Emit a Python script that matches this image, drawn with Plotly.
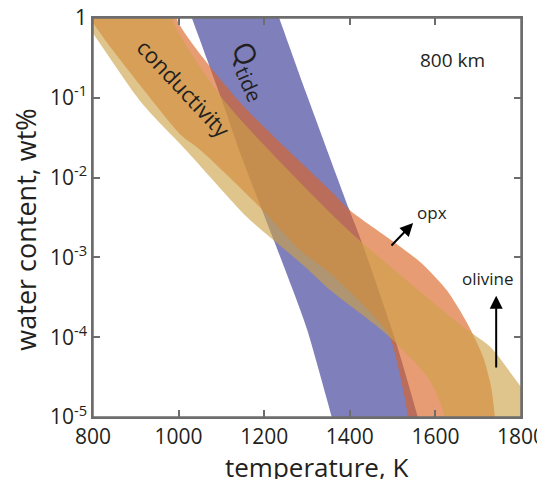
import numpy as np
import plotly.graph_objects as go

# ---- data (temperature K, log10 water content wt%) ----
# Q_tide band
qtide_left_T = [1024, 1031, 1101, 1150, 1225, 1267, 1300, 1358, 1363]
qtide_left_logw = [0.1, 0.0, -1.03, -1.78, -2.82, -3.41, -3.90, -5.0, -5.1]
qtide_right_T = [1228, 1235, 1298, 1398, 1428, 1506, 1559, 1564]
qtide_right_logw = [0.1, 0.0, -0.94, -2.39, -2.81, -4.03, -5.0, -5.1]

# opx conductivity band
opx_upper_T = [1015, 1010, 996, 1139, 1354, 1400, 1506, 1567, 1628, 1676, 1711, 1730, 1739, 1741]
opx_upper_logw = [0.2, 0.1, 0.0, -1.03, -2.16, -2.41, -2.82, -3.07, -3.42, -3.84, -4.24, -4.62, -5.0, -5.2]
opx_lower_T = [780, 800, 844, 898, 1008, 1050, 1190, 1284, 1354, 1489, 1517, 1536, 1536]
opx_lower_logw = [0.09, -0.063, -0.39, -0.76, -1.48, -1.65, -2.37, -2.91, -3.20, -3.95, -4.47, -5.0, -5.2]

# olivine conductivity band
ol_upper_T = [1000, 997, 985, 1106, 1354, 1428, 1664, 1728, 1800, 1850]
ol_upper_logw = [0.2, 0.1, 0.0, -1.03, -2.44, -2.81, -3.87, -4.12, -4.62, -4.95]
ol_lower_T = [780, 800, 914, 1017, 1157, 1230, 1298, 1354, 1487, 1587, 1622, 1622]
ol_lower_logw = [-0.04, -0.19, -1.065, -1.654, -2.48, -2.82, -3.13, -3.41, -3.97, -4.54, -5.0, -5.2]

x_ticks = [800, 1000, 1200, 1400, 1600, 1800]
y_tick_exp = [-5, -4, -3, -2, -1, 0]
y_tick_text = ["10<sup>-5</sup>", "10<sup>-4</sup>", "10<sup>-3</sup>", "10<sup>-2</sup>", "10<sup>-1</sup>", "1"]


def band(upper_T, upper_logw, lower_T, lower_logw, corner_pts):
    xs = list(upper_T) + [c[0] for c in corner_pts[0]] + list(lower_T)[::-1] + [c[0] for c in corner_pts[1]]
    ls = list(upper_logw) + [c[1] for c in corner_pts[0]] + list(lower_logw)[::-1] + [c[1] for c in corner_pts[1]]
    return xs, (10.0 ** np.array(ls)).tolist()


fig = go.Figure()
line_spec = dict(width=0, color="rgba(0,0,0,0)", shape="spline", smoothing=0.7)

# blue Q_tide
bx = qtide_left_T + qtide_right_T[::-1]
by = (10.0 ** np.array(qtide_left_logw + qtide_right_logw[::-1])).tolist()
fig.add_trace(go.Scatter(x=bx, y=by, fill="toself", mode="lines",
                         fillcolor="rgba(53,53,149,0.63)", line=line_spec,
                         hoverinfo="skip", showlegend=False))

# opx (salmon)
ox, oy = band(opx_upper_T, opx_upper_logw, opx_lower_T, opx_lower_logw,
              [[], [(780, 0.2)]])
fig.add_trace(go.Scatter(x=ox, y=oy, fill="toself", mode="lines",
                         fillcolor="rgba(218,98,34,0.63)", line=line_spec,
                         hoverinfo="skip", showlegend=False))

# olivine (tan)
vx, vy = band(ol_upper_T, ol_upper_logw, ol_lower_T, ol_lower_logw,
              [[(1850, -5.2)], [(780, 0.2)]])
fig.add_trace(go.Scatter(x=vx, y=vy, fill="toself", mode="lines",
                         fillcolor="rgba(204,161,72,0.63)", line=line_spec,
                         hoverinfo="skip", showlegend=False))

txt = "#231f20"
font = "Open Sans"
frame_col = "#6d6d6d"

fig.add_annotation(x=1013, y=-0.88, xref="x", yref="y", text="conductivity", showarrow=False,
                   textangle=47, font=dict(family=font, size=22, color=txt))
fig.add_annotation(x=1170, y=-0.66, xref="x", yref="y", text="Q<sub>tide</sub>", showarrow=False,
                   textangle=66, font=dict(family=font, size=29, color=txt))
fig.add_annotation(x=1639, y=-0.53, xref="x", yref="y", text="800 km", showarrow=False,
                   font=dict(family=font, size=19, color=txt))
fig.add_annotation(x=1592, y=-2.44, xref="x", yref="y", text="opx", showarrow=False,
                   font=dict(family=font, size=17, color=txt))
fig.add_annotation(x=1723, y=-3.26, xref="x", yref="y", text="olivine", showarrow=False,
                   font=dict(family=font, size=17, color=txt))
# arrows
fig.add_annotation(x=1548, y=-2.57, ax=1494, ay=-2.87, xref="x", yref="y", axref="x", ayref="y",
                   text="", showarrow=True, arrowhead=2, arrowsize=1.3, arrowwidth=2, arrowcolor="black")
fig.add_annotation(x=1742, y=-3.48, ax=1742, ay=-4.40, xref="x", yref="y", axref="x", ayref="y",
                   text="", showarrow=True, arrowhead=2, arrowsize=1.3, arrowwidth=2, arrowcolor="black")

# axis titles
fig.add_annotation(x=0.523, y=-0.125, xref="paper", yref="paper", text="temperature, K", showarrow=False,
                   xanchor="center", yanchor="middle", font=dict(family=font, size=26, color=txt))
fig.add_annotation(x=-0.157, y=0.469, xref="paper", yref="paper", text="water content, wt%", showarrow=False,
                   textangle=-90, xanchor="center", yanchor="middle", font=dict(family=font, size=27, color=txt))

# plot frame
fig.add_shape(type="rect", xref="paper", yref="paper", x0=0, x1=1, y0=0, y1=1,
              line=dict(color=frame_col, width=1.5), fillcolor="rgba(0,0,0,0)", layer="above")

axis_common = dict(showline=True, linecolor=frame_col, linewidth=1.5, mirror="ticks",
                   ticks="inside", ticklen=7, tickwidth=1.5, tickcolor=frame_col,
                   showgrid=False, zeroline=False, automargin=False, ticklabeloverflow="allow",
                   tickfont=dict(family=font, size=21, color=txt))

fig.update_xaxes(range=[800, 1800], tickvals=x_ticks, ticktext=[str(v) for v in x_ticks], **axis_common)
fig.update_yaxes(type="log", range=[-5, 0], tickvals=[10.0 ** e for e in y_tick_exp], ticktext=y_tick_text,
                 **axis_common)

# page body has an 8px margin: size/margins chosen so the plot area lands at the reference position
fig.update_layout(width=537, height=471, margin=dict(l=85, r=24, t=10, b=62),
                  plot_bgcolor="white", paper_bgcolor="white", template="none")

fig.write_html("out.html")
